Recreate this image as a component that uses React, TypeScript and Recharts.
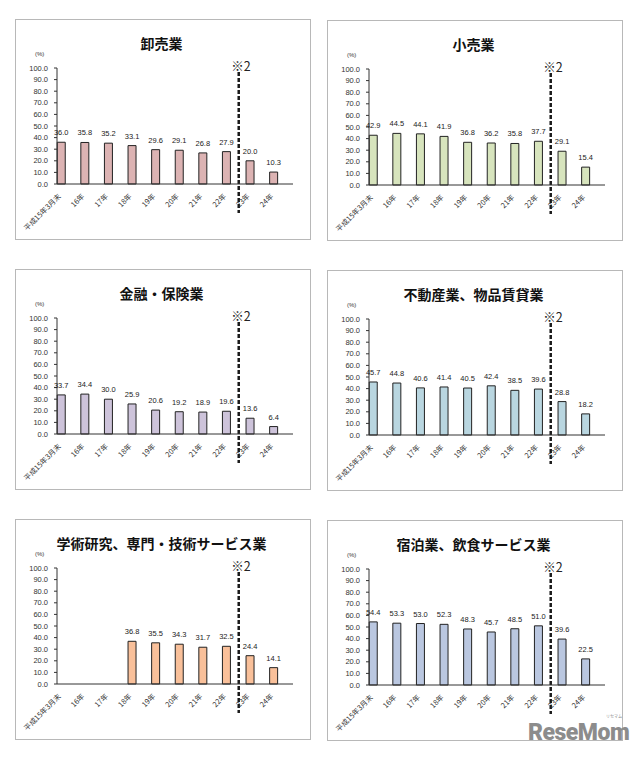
import React from "react";
import { BarChart, Bar, XAxis, YAxis, ReferenceLine, LabelList } from "recharts";

const categories = ["平成15年3月末", "16年", "17年", "18年", "19年", "20年", "21年", "22年", "23年", "24年"];
const yTicks = [0, 10, 20, 30, 40, 50, 60, 70, 80, 90, 100];

const wholesale = [36.0, 35.8, 35.2, 33.1, 29.6, 29.1, 26.8, 27.9, 20.0, 10.3];
const retail = [42.9, 44.5, 44.1, 41.9, 36.8, 36.2, 35.8, 37.7, 29.1, 15.4];
const finance = [33.7, 34.4, 30.0, 25.9, 20.6, 19.2, 18.9, 19.6, 13.6, 6.4];
const realEstate = [45.7, 44.8, 40.6, 41.4, 40.5, 42.4, 38.5, 39.6, 28.8, 18.2];
const research = [null, null, null, 36.8, 35.5, 34.3, 31.7, 32.5, 24.4, 14.1];
const hospitality = [54.4, 53.3, 53.0, 52.3, 48.3, 45.7, 48.5, 51.0, 39.6, 22.5];

const titles = [
  "卸売業",
  "小売業",
  "金融・保険業",
  "不動産業、物品賃貸業",
  "学術研究、専門・技術サービス業",
  "宿泊業、飲食サービス業",
];
const seriesList = [wholesale, retail, finance, realEstate, research, hospitality];
const colors = ["#dcb3b3", "#d7e4bd", "#cdc3da", "#b9d6e0", "#f9c09a", "#bac7e0"];

// divider position on a 0..10 category-index scale, and its vertical extent in value units
const dividerAt = 7.7;
const dividerTop = 96.5;
const dividerBottom = -25;
const dividerLabel = "※2";

const panelPos = [
  { left: 15, top: 19 },
  { left: 327, top: 20 },
  { left: 15, top: 269 },
  { left: 327, top: 270 },
  { left: 15, top: 519 },
  { left: 327, top: 520 },
];

const NUM_FONT = "'Liberation Sans', Arial, sans-serif";
const JP_FONT = "'Noto Sans CJK JP', sans-serif";

const XTick = (props: any) => {
  const { x, y, payload } = props;
  return (
    <g transform={`translate(${x - 9.2},${y + 11})`}>
      <text
        transform="rotate(-45)"
        textAnchor="end"
        dy="0.35em"
        fontSize={7.3}
        fill="#333"
        fontFamily={JP_FONT}
      >
        {payload.value}
      </text>
    </g>
  );
};

const Panel = ({ idx }: { idx: number }) => {
  const values = seriesList[idx];
  const data = categories.map((c, i) => ({ cat: c, pos: i, v: values[i] }));
  const pos = panelPos[idx];
  return (
    <div
      style={{
        position: "absolute",
        left: pos.left,
        top: pos.top,
        width: 296,
        height: 221,
        border: "1px solid #b8b8b8",
        boxSizing: "border-box",
        background: "#fff",
      }}
    >
      <div style={{ position: "absolute", left: -1, top: -1 }}>
        <BarChart
          width={296}
          height={221}
          data={data}
          margin={{ top: 49, right: 18, bottom: 0, left: 0 }}
          barCategoryGap="1%"
          barGap={0}
        >
          <XAxis
            dataKey="cat"
            interval={0}
            tickLine={false}
            tickSize={0}
            tickMargin={0}
            height={56}
            axisLine={{ stroke: "#333", strokeWidth: 1 }}
            tick={<XTick />}
          />
          <XAxis
            xAxisId="div"
            dataKey="pos"
            type="number"
            domain={[0, 10]}
            allowDataOverflow={true}
            padding={{ left: 0, right: 0 }}
            hide
          />
          <YAxis
            domain={[0, 100]}
            ticks={yTicks}
            interval={0}
            width={42}
            tickSize={3}
            tickMargin={6}
            tickFormatter={(v: number) => v.toFixed(1)}
            tick={{ fontSize: 7.5, fill: "#333", fontFamily: NUM_FONT }}
            tickLine={{ stroke: "#333" }}
            axisLine={{ stroke: "#333", strokeWidth: 1 }}
          />
          <Bar dataKey="v" fill={colors[idx]} stroke="#222" strokeWidth={1} isAnimationActive={false}>
            <LabelList
              dataKey="v"
              position="top"
              offset={7}
              formatter={(v: any) => (v == null ? "" : Number(v).toFixed(1))}
              style={{ fontSize: 7.5, fill: "#222", fontFamily: NUM_FONT }}
            />
          </Bar>
          <Bar dataKey="s2" fill="none" isAnimationActive={false} />
          <Bar dataKey="s3" fill="none" isAnimationActive={false} />
          <ReferenceLine
            xAxisId="div"
            segment={[
              { x: dividerAt, y: dividerTop },
              { x: dividerAt, y: dividerBottom },
            ]}
            stroke="#1a1a1a"
            strokeWidth={2.5}
            strokeDasharray="4 2"
            ifOverflow="visible"
          />
        </BarChart>
      </div>
      <div
        style={{
          position: "absolute",
          left: 0,
          top: 13,
          width: 291,
          textAlign: "center",
          fontFamily: JP_FONT,
          fontWeight: 700,
          fontSize: 14,
          lineHeight: "20px",
          color: "#111",
          whiteSpace: "nowrap",
        }}
      >
        {titles[idx]}
      </div>
      <div
        style={{
          position: "absolute",
          left: 19,
          top: 30,
          fontFamily: NUM_FONT,
          fontSize: 6,
          lineHeight: "8px",
          color: "#333",
        }}
      >
        (%)
      </div>
      <div
        style={{
          position: "absolute",
          left: 205,
          top: 38,
          width: 40,
          textAlign: "center",
          fontFamily: JP_FONT,
          fontSize: 12.5,
          lineHeight: "16px",
          color: "#222",
        }}
      >
        {dividerLabel}
      </div>
    </div>
  );
};

export default function App() {
  return (
    <div
      style={{
        position: "absolute",
        left: 0,
        top: 0,
        width: 640,
        height: 757,
        background: "#fff",
        overflow: "hidden",
      }}
    >
      {titles.map((_, i) => (
        <Panel key={i} idx={i} />
      ))}
      <div
        style={{
          position: "absolute",
          left: 528,
          top: 721,
          fontFamily: "Roboto, sans-serif",
          fontWeight: 900,
          fontSize: 23,
          letterSpacing: -0.5,
          color: "#8c8c8c",
          lineHeight: "24px",
        }}
      >
        ReseMom
      </div>
      <div
        style={{
          position: "absolute",
          left: 606,
          top: 714,
          fontFamily: JP_FONT,
          fontSize: 4,
          color: "#8c8c8c",
          lineHeight: "5px",
        }}
      >
        リセマム
      </div>
    </div>
  );
}
